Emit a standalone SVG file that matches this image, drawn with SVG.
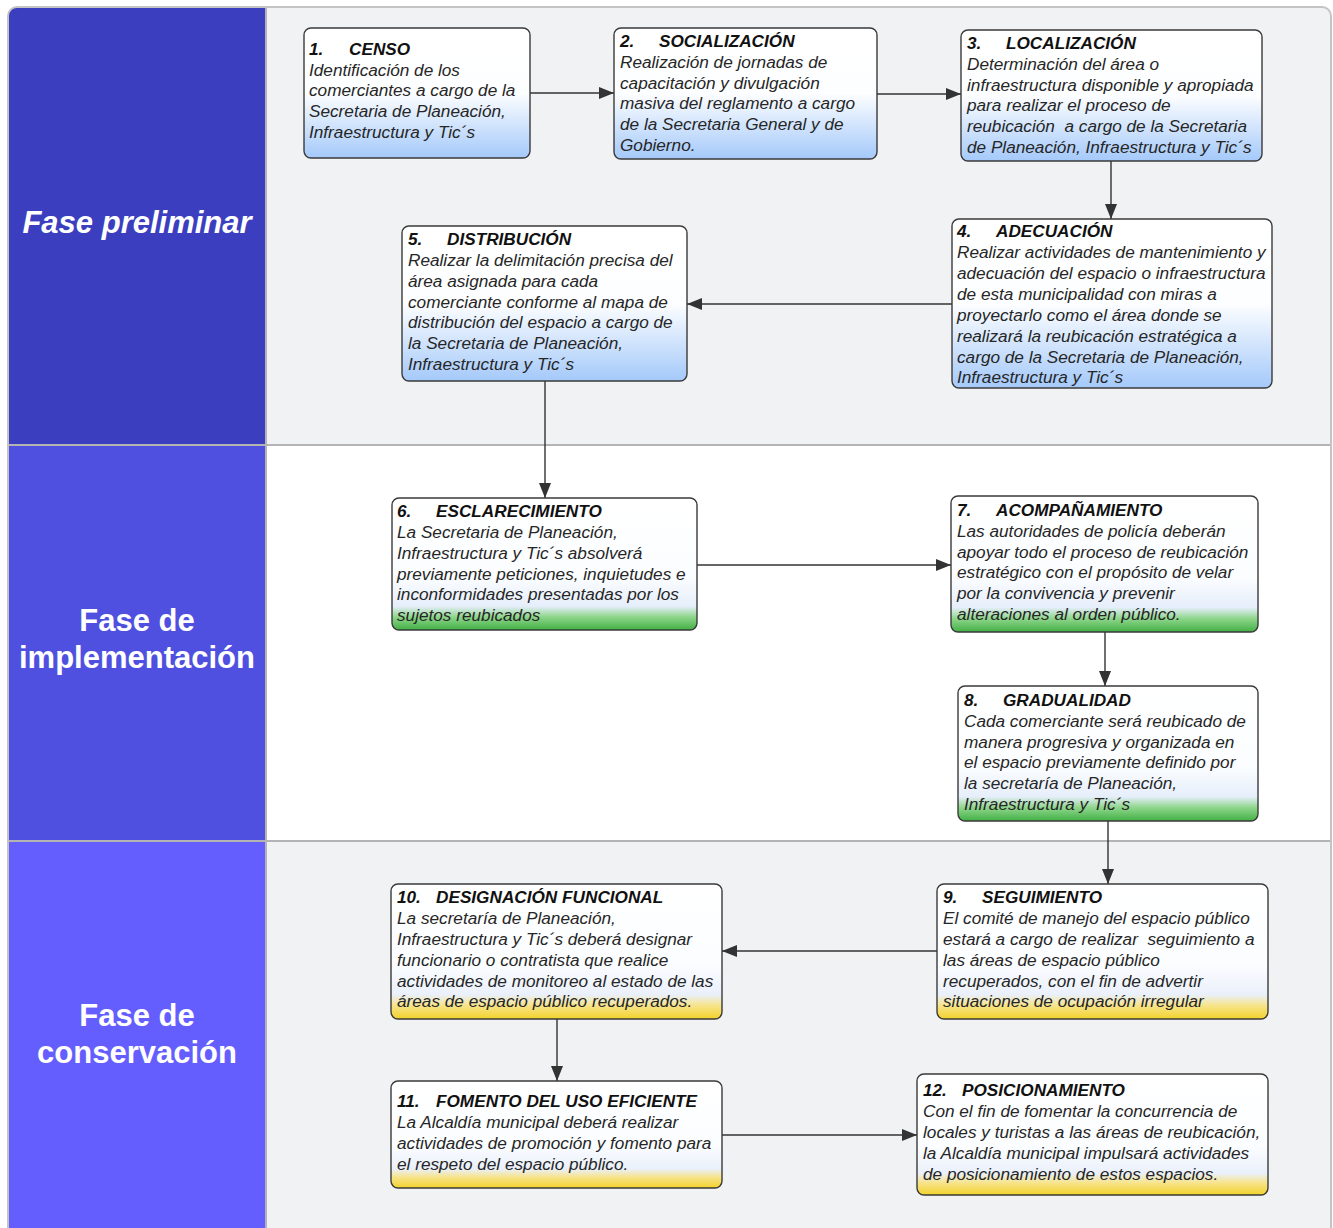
<svg xmlns="http://www.w3.org/2000/svg" width="1333" height="1228" viewBox="0 0 1333 1228">
<style>
.box{stroke:#3a3a3a;stroke-width:1.4}
.t{font-family:"Liberation Sans",Arial,sans-serif;font-size:17.2px;font-style:italic;fill:#262626;white-space:pre}
.h{font-weight:bold;fill:#111}
.lane{font-family:"Liberation Sans",Arial,sans-serif;font-size:31px;font-weight:bold;fill:#fff;text-anchor:middle}
.c{stroke:#333;stroke-width:1.4;fill:none;marker-end:url(#arr)}
</style>
<defs>
<linearGradient id="gb" x1="0" y1="0" x2="0" y2="1"><stop offset="0" stop-color="#fff"/><stop offset="0.5" stop-color="#fdfeff"/><stop offset="1" stop-color="#a4c9fa"/></linearGradient>
<linearGradient id="gg" x1="0" y1="0" x2="0" y2="1"><stop offset="0" stop-color="#fff"/><stop offset="0.6" stop-color="#fbfdff"/><stop offset="0.82" stop-color="#e6eefb"/><stop offset="0.9" stop-color="#8fd68c"/><stop offset="1" stop-color="#42b045"/></linearGradient>
<linearGradient id="gy" x1="0" y1="0" x2="0" y2="1"><stop offset="0" stop-color="#fff"/><stop offset="0.6" stop-color="#fbfdff"/><stop offset="0.82" stop-color="#eaf0fb"/><stop offset="0.9" stop-color="#f7e48a"/><stop offset="1" stop-color="#f2d22a"/></linearGradient>
<marker id="arr" markerUnits="userSpaceOnUse" markerWidth="16" markerHeight="12" refX="15" refY="6" orient="auto"><path d="M0,0 L15,6 L0,12 Z" fill="#333"/></marker>
<clipPath id="frame"><rect x="8" y="7" width="1323" height="1240" rx="9"/></clipPath>
</defs>
<rect width="1333" height="1228" fill="#fff"/>
<g id="lanes" clip-path="url(#frame)">
<rect x="8" y="7" width="1323" height="438" fill="#f1f2f4"/>
<rect x="8" y="445" width="1323" height="396" fill="#fff"/>
<rect x="8" y="841" width="1323" height="400" fill="#f1f2f4"/>
<rect x="8" y="7" width="257" height="438" fill="#3b3fbf"/>
<rect x="8" y="445" width="257" height="396" fill="#4f50df"/>
<rect x="8" y="841" width="257" height="400" fill="#655eff"/>
<line x1="8" y1="445" x2="1331" y2="445" stroke="#b4b4b4" stroke-width="2"/>
<line x1="8" y1="841" x2="1331" y2="841" stroke="#b4b4b4" stroke-width="2"/>
<line x1="266" y1="7" x2="266" y2="1228" stroke="#b4b4b4" stroke-width="2"/>
</g>
<rect x="8" y="7" width="1323" height="1240" rx="9" fill="none" stroke="#c4c4c4" stroke-width="2"/>
<g id="lane-labels">
<text class="lane" x="137" y="233" font-style="italic">Fase preliminar</text>
<text class="lane" x="137" y="631">Fase de</text>
<text class="lane" x="137" y="668">implementación</text>
<text class="lane" x="137" y="1026">Fase de</text>
<text class="lane" x="137" y="1063">conservación</text>
</g>
<g id="connectors">
<line class="c" x1="530" y1="93" x2="614" y2="93"/>
<line class="c" x1="877" y1="94" x2="961" y2="94"/>
<line class="c" x1="1111" y1="161" x2="1111" y2="219"/>
<line class="c" x1="952" y1="304" x2="687" y2="304"/>
<line class="c" x1="545" y1="381" x2="545" y2="498"/>
<line class="c" x1="697" y1="565" x2="951" y2="565"/>
<line class="c" x1="1105" y1="632" x2="1105" y2="686"/>
<line class="c" x1="1108" y1="821" x2="1108" y2="884"/>
<line class="c" x1="937" y1="951" x2="722" y2="951"/>
<line class="c" x1="557" y1="1019" x2="557" y2="1081"/>
<line class="c" x1="722" y1="1135" x2="917" y2="1135"/>
</g>
<g id="n1"><rect class="box" x="304" y="28" width="226" height="130" rx="7" fill="url(#gb)"/>
<text class="t h" x="309" y="55">1.<tspan x="349">CENSO</tspan></text>
<text class="t"><tspan x="309" y="76">Identificación de los</tspan><tspan x="309" y="96">comerciantes a cargo de la</tspan><tspan x="309" y="117">Secretaria de Planeación,</tspan><tspan x="309" y="138">Infraestructura y Tic´s</tspan></text></g>
<g id="n2"><rect class="box" x="614" y="28" width="263" height="131" rx="7" fill="url(#gb)"/>
<text class="t h" x="620" y="47">2.<tspan x="659">SOCIALIZACIÓN</tspan></text>
<text class="t"><tspan x="620" y="68">Realización de jornadas de</tspan><tspan x="620" y="89">capacitación y divulgación</tspan><tspan x="620" y="109">masiva del reglamento a cargo</tspan><tspan x="620" y="130">de la Secretaria General y de</tspan><tspan x="620" y="151">Gobierno.</tspan></text></g>
<g id="n3"><rect class="box" x="961" y="30" width="301" height="131" rx="7" fill="url(#gb)"/>
<text class="t h" x="967" y="49">3.<tspan x="1006">LOCALIZACIÓN</tspan></text>
<text class="t" xml:space="preserve"><tspan x="967" y="70">Determinación del área o</tspan><tspan x="967" y="91">infraestructura disponible y apropiada</tspan><tspan x="967" y="111">para realizar el proceso de</tspan><tspan x="967" y="132">reubicación  a cargo de la Secretaria</tspan><tspan x="967" y="153">de Planeación, Infraestructura y Tic´s</tspan></text></g>
<g id="n4"><rect class="box" x="952" y="219" width="320" height="169" rx="7" fill="url(#gb)"/>
<text class="t h" x="957" y="237">4.<tspan x="996">ADECUACIÓN</tspan></text>
<text class="t"><tspan x="957" y="258">Realizar actividades de mantenimiento y</tspan><tspan x="957" y="279">adecuación del espacio o infraestructura</tspan><tspan x="957" y="300">de esta municipalidad con miras a</tspan><tspan x="957" y="321">proyectarlo como el área donde se</tspan><tspan x="957" y="342">realizará la reubicación estratégica a</tspan><tspan x="957" y="363">cargo de la Secretaria de Planeación,</tspan><tspan x="957" y="383">Infraestructura y Tic´s</tspan></text></g>
<g id="n5"><rect class="box" x="402" y="226" width="285" height="155" rx="7" fill="url(#gb)"/>
<text class="t h" x="408" y="245">5.<tspan x="447">DISTRIBUCIÓN</tspan></text>
<text class="t"><tspan x="408" y="266">Realizar la delimitación precisa del</tspan><tspan x="408" y="287">área asignada para cada</tspan><tspan x="408" y="308">comerciante conforme al mapa de</tspan><tspan x="408" y="328">distribución del espacio a cargo de</tspan><tspan x="408" y="349">la Secretaria de Planeación,</tspan><tspan x="408" y="370">Infraestructura y Tic´s</tspan></text></g>
<g id="n6"><rect class="box" x="392" y="498" width="305" height="132" rx="7" fill="url(#gg)"/>
<text class="t h" x="397" y="517">6.<tspan x="436">ESCLARECIMIENTO</tspan></text>
<text class="t"><tspan x="397" y="538">La Secretaria de Planeación,</tspan><tspan x="397" y="559">Infraestructura y Tic´s absolverá</tspan><tspan x="397" y="580">previamente peticiones, inquietudes e</tspan><tspan x="397" y="600">inconformidades presentadas por los</tspan><tspan x="397" y="621">sujetos reubicados</tspan></text></g>
<g id="n7"><rect class="box" x="951" y="496" width="307" height="136" rx="7" fill="url(#gg)"/>
<text class="t h" x="957" y="516">7.<tspan x="996">ACOMPAÑAMIENTO</tspan></text>
<text class="t"><tspan x="957" y="537">Las autoridades de policía deberán</tspan><tspan x="957" y="558">apoyar todo el proceso de reubicación</tspan><tspan x="957" y="578">estratégico con el propósito de velar</tspan><tspan x="957" y="599">por la convivencia y prevenir</tspan><tspan x="957" y="620">alteraciones al orden público.</tspan></text></g>
<g id="n8"><rect class="box" x="958" y="686" width="300" height="135" rx="7" fill="url(#gg)"/>
<text class="t h" x="964" y="706">8.<tspan x="1003">GRADUALIDAD</tspan></text>
<text class="t"><tspan x="964" y="727">Cada comerciante será reubicado de</tspan><tspan x="964" y="748">manera progresiva y organizada en</tspan><tspan x="964" y="768">el espacio previamente definido por</tspan><tspan x="964" y="789">la secretaría de Planeación,</tspan><tspan x="964" y="810">Infraestructura y Tic´s</tspan></text></g>
<g id="n9"><rect class="box" x="937" y="884" width="331" height="135" rx="7" fill="url(#gy)"/>
<text class="t h" x="943" y="903">9.<tspan x="982">SEGUIMIENTO</tspan></text>
<text class="t" xml:space="preserve"><tspan x="943" y="924">El comité de manejo del espacio público</tspan><tspan x="943" y="945">estará a cargo de realizar  seguimiento a</tspan><tspan x="943" y="966">las áreas de espacio público</tspan><tspan x="943" y="987">recuperados, con el fin de advertir</tspan><tspan x="943" y="1007">situaciones de ocupación irregular</tspan></text></g>
<g id="n10"><rect class="box" x="391" y="884" width="331" height="135" rx="7" fill="url(#gy)"/>
<text class="t h" x="397" y="903">10.<tspan x="436">DESIGNACIÓN FUNCIONAL</tspan></text>
<text class="t"><tspan x="397" y="924">La secretaría de Planeación,</tspan><tspan x="397" y="945">Infraestructura y Tic´s deberá designar</tspan><tspan x="397" y="966">funcionario o contratista que realice</tspan><tspan x="397" y="987">actividades de monitoreo al estado de las</tspan><tspan x="397" y="1007">áreas de espacio público recuperados.</tspan></text></g>
<g id="n11"><rect class="box" x="391" y="1081" width="331" height="107" rx="7" fill="url(#gy)"/>
<text class="t h" x="397" y="1107">11.<tspan x="436">FOMENTO DEL USO EFICIENTE</tspan></text>
<text class="t"><tspan x="397" y="1128">La Alcaldía municipal deberá realizar</tspan><tspan x="397" y="1149">actividades de promoción y fomento para</tspan><tspan x="397" y="1170">el respeto del espacio público.</tspan></text></g>
<g id="n12"><rect class="box" x="917" y="1074" width="351" height="121" rx="7" fill="url(#gy)"/>
<text class="t h" x="923" y="1096">12.<tspan x="962">POSICIONAMIENTO</tspan></text>
<text class="t"><tspan x="923" y="1117">Con el fin de fomentar la concurrencia de</tspan><tspan x="923" y="1138">locales y turistas a las áreas de reubicación,</tspan><tspan x="923" y="1159">la Alcaldía municipal impulsará actividades</tspan><tspan x="923" y="1180">de posicionamiento de estos espacios.</tspan></text></g>
</svg>
